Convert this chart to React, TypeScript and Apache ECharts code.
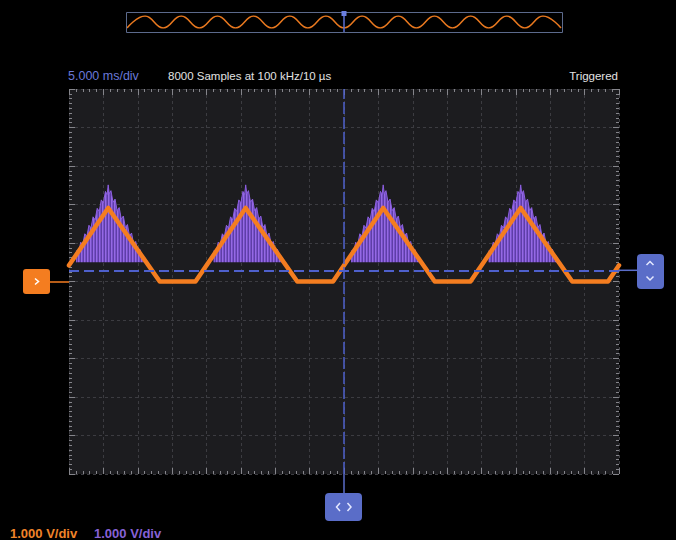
import React, { useEffect, useRef } from 'react';
import * as echarts from 'echarts';

// ---- Axes (oscilloscope divisions) ----
const timeMin = -40; // ms
const timeMax = 40;
const timeStep = 5; // 5.000 ms/div
const voltMin = -5;
const voltMax = 5;
const voltStep = 1; // 1.000 V/div

// ---- Orange channel (clipped triangle wave) ----
const orangeTimes = [-40, -34.3, -26.8, -21.6, -14.3, -6.8, -1.6, 5.7, 13.2, 18.4, 25.7, 33.2, 38.4, 40];
const orangeVolts = [0.42, 1.91, 0, 0, 1.91, 0, 0, 1.91, 0, 0, 1.91, 0, 0, 0.42];

// ---- Purple channel (pulse bursts) ----
const pulsePeakTimes = [-34.3, -14.3, 5.7, 25.7];
const purpleOffsets = [
  -4.6, -4.6, -4.3, -4.0, -3.7, -3.4, -3.1, -2.8, -2.5, -2.2, -1.9, -1.6, -1.3, -1.0, -0.7, -0.4, -0.15, 0,
  0.15, 0.4, 0.7, 1.0, 1.3, 1.6, 1.9, 2.2, 2.5, 2.8, 3.1, 3.4, 3.7, 4.0, 4.3, 4.6, 5.0, 5.3,
];
const purpleVolts = [
  0.5, 0.8, 0.74, 1.02, 0.96, 1.24, 1.17, 1.46, 1.39, 1.68, 1.6, 1.9, 1.82, 2.12, 2.04, 2.34, 2.26, 2.51,
  2.28, 2.36, 2.06, 2.14, 1.84, 1.92, 1.62, 1.7, 1.4, 1.48, 1.18, 1.26, 0.97, 1.04, 0.78, 0.84, 0.62, 0.5,
];
const purpleBaseVolt = 0.5;

// ---- Trigger ----
const triggerTime = 0;
const triggerLevel = 0.29;

// ---- Overview strip (12 cycles) ----
const overviewPeakPos = [0.5, 1.5, 2.5, 3.5, 4.5, 5.5, 6.5, 7.5, 8.5, 9.5, 10.5, 11.5];
const overviewTroughPos = [0, 1, 2, 3, 4, 5, 6, 7, 8, 9, 10, 11, 12];

// ---- Texts ----
const timebaseText = '5.000 ms/div';
const samplesText = '8000 Samples at 100 kHz/10 µs';
const statusText = 'Triggered';
const ch1ScaleText = '1.000 V/div';
const ch2ScaleText = '1.000 V/div';

const ORANGE = '#f47d20';
const BLUE = '#4e60cc';
const HANDLE_BLUE = '#5a6dc8';
const FONT = '"Liberation Sans", Arial, sans-serif';

export default function App() {
  const ref = useRef<HTMLDivElement>(null);

  useEffect(() => {
    if (!ref.current) return;
    const chart = echarts.init(ref.current, null, { renderer: 'svg' });

    const stripe = document.createElement('canvas');
    stripe.width = 3;
    stripe.height = 2;
    const ctx = stripe.getContext('2d');
    if (ctx) {
      ctx.fillStyle = '#7750c8';
      ctx.fillRect(0, 0, 3, 2);
      ctx.fillStyle = '#956ae4';
      ctx.fillRect(0, 0, 1, 2);
      ctx.fillStyle = '#5e3ea6';
      ctx.fillRect(2, 0, 1, 2);
    }

    const orangeData = orangeTimes.map((t, i) => [t, orangeVolts[i]]);
    const purpleData: any[] = [];
    pulsePeakTimes.forEach((p) => {
      purpleOffsets.forEach((d, i) => purpleData.push([+(p + d).toFixed(3), purpleVolts[i]]));
      purpleData.push([+(p + 6).toFixed(3), '-']);
    });

    const overviewPts: number[][] = [];
    overviewTroughPos.forEach((x) => overviewPts.push([x, -1]));
    overviewPeakPos.forEach((x) => overviewPts.push([x, 1]));
    overviewPts.sort((a, b) => a[0] - b[0]);

    const tickLine = { color: '#85858b', width: 1 };
    const mainAxisX = (position: 'top' | 'bottom', grid: boolean) => ({
      type: 'value',
      gridIndex: 0,
      min: timeMin,
      max: timeMax,
      interval: timeStep,
      position,
      axisLine: { show: false, onZero: false },
      axisTick: { show: true, inside: true, length: 6, lineStyle: tickLine },
      minorTick: { show: true, splitNumber: 5, length: 3, lineStyle: tickLine },
      axisLabel: { show: false },
      splitLine: { show: grid, lineStyle: { color: '#3c3c41', type: [3, 3], width: 1 } },
    });
    const mainAxisY = (position: 'left' | 'right', grid: boolean) => ({
      type: 'value',
      gridIndex: 0,
      min: voltMin,
      max: voltMax,
      interval: voltStep,
      position,
      axisLine: { show: false, onZero: false },
      axisTick: { show: true, inside: true, length: 6, lineStyle: tickLine },
      minorTick: { show: true, splitNumber: 8, length: 3, lineStyle: tickLine },
      axisLabel: { show: false },
      splitLine: { show: grid, lineStyle: { color: '#3c3c41', type: [3, 3], width: 1 } },
    });

    const option: any = {
      animation: false,
      backgroundColor: '#000000',
      grid: [
        { left: 69, top: 89, width: 550, height: 385, show: true, backgroundColor: '#1c1c1f', borderWidth: 0 },
        { left: 127, top: 16, width: 434, height: 12, show: false },
      ],
      xAxis: [
        mainAxisX('bottom', true),
        mainAxisX('top', false),
        { type: 'value', gridIndex: 1, min: 0, max: 12, show: false },
      ],
      yAxis: [
        mainAxisY('left', true),
        mainAxisY('right', false),
        { type: 'value', gridIndex: 1, min: -1, max: 1, show: false },
      ],
      series: [
        {
          type: 'line',
          xAxisIndex: 0,
          yAxisIndex: 0,
          z: 2,
          data: purpleData,
          showSymbol: false,
          symbol: 'none',
          connectNulls: false,
          silent: true,
          lineStyle: { color: '#8c5fe0', width: 1 },
          areaStyle: {
            origin: purpleBaseVolt,
            color: { image: stripe, repeat: 'repeat', imageWidth: 3, imageHeight: 2 },
            opacity: 1,
          },
          markLine: {
            silent: true,
            symbol: ['none', 'none'],
            label: { show: false },
            emphasis: { disabled: true },
            data: [
              { xAxis: triggerTime, lineStyle: { color: BLUE, width: 1.5, type: [12, 3] } },
              { yAxis: triggerLevel, lineStyle: { color: BLUE, width: 2, type: [10, 5] } },
            ],
          },
        },
        {
          type: 'line',
          xAxisIndex: 0,
          yAxisIndex: 0,
          z: 3,
          data: orangeData,
          showSymbol: false,
          symbol: 'none',
          silent: true,
          lineStyle: { color: ORANGE, width: 4.5, join: 'round', cap: 'round' },
        },
        {
          type: 'line',
          xAxisIndex: 2,
          yAxisIndex: 2,
          data: overviewPts,
          showSymbol: false,
          symbol: 'none',
          smooth: 0.45,
          silent: true,
          lineStyle: { color: '#e8781f', width: 1.5 },
        },
      ],
      graphic: [
        // overview frame + marker
        { type: 'rect', shape: { x: 126.5, y: 12.5, width: 436, height: 20 }, style: { fill: 'none', stroke: '#5c6a8c', lineWidth: 1 }, z: 10 },
        { type: 'line', shape: { x1: 344, y1: 13, x2: 344, y2: 32 }, style: { stroke: '#5b6fd2', lineWidth: 1.5 }, z: 11 },
        { type: 'rect', shape: { x: 341.5, y: 11, width: 5, height: 5 }, style: { fill: '#6b7fe0' }, z: 12 },
        // header texts
        { type: 'text', x: 68, y: 76, style: { text: timebaseText, fill: '#6a79d8', font: `12.5px ${FONT}`, textAlign: 'left', textVerticalAlign: 'middle' }, z: 10 },
        { type: 'text', x: 168, y: 76, style: { text: samplesText, fill: '#e2e2e2', font: `11.5px ${FONT}`, textAlign: 'left', textVerticalAlign: 'middle' }, z: 10 },
        { type: 'text', x: 618, y: 76, style: { text: statusText, fill: '#e2e2e2', font: `11.5px ${FONT}`, textAlign: 'right', textVerticalAlign: 'middle' }, z: 10 },
        // left (channel ground) handle
        { type: 'line', shape: { x1: 49, y1: 282, x2: 69, y2: 282 }, style: { stroke: ORANGE, lineWidth: 1.5 }, z: 10 },
        { type: 'rect', shape: { x: 23, y: 269, width: 27, height: 25, r: 3 }, style: { fill: ORANGE }, z: 10 },
        { type: 'polyline', shape: { points: [[35, 278.5], [38.5, 281.5], [35, 284.5]] }, style: { stroke: '#ffffff', lineWidth: 1.5, fill: 'none' }, z: 11 },
        // right (trigger level) handle
        { type: 'line', shape: { x1: 619, y1: 270.3, x2: 637, y2: 270.3 }, style: { stroke: HANDLE_BLUE, lineWidth: 1.5 }, z: 10 },
        { type: 'rect', shape: { x: 637, y: 254, width: 27, height: 35, r: 4 }, style: { fill: HANDLE_BLUE }, z: 10 },
        { type: 'polyline', shape: { points: [[646.5, 265], [650, 261.5], [653.5, 265]] }, style: { stroke: '#e4e8ff', lineWidth: 1.5, fill: 'none' }, z: 11 },
        { type: 'polyline', shape: { points: [[646.5, 276.5], [650, 280], [653.5, 276.5]] }, style: { stroke: '#e4e8ff', lineWidth: 1.5, fill: 'none' }, z: 11 },
        // bottom (trigger position) handle
        { type: 'line', shape: { x1: 344, y1: 474, x2: 344, y2: 493 }, style: { stroke: HANDLE_BLUE, lineWidth: 1.5 }, z: 10 },
        { type: 'rect', shape: { x: 325, y: 493, width: 37, height: 28, r: 4 }, style: { fill: HANDLE_BLUE }, z: 10 },
        { type: 'polyline', shape: { points: [[340, 503], [336.5, 507], [340, 511]] }, style: { stroke: '#e4e8ff', lineWidth: 1.5, fill: 'none' }, z: 11 },
        { type: 'polyline', shape: { points: [[347.5, 503], [351, 507], [347.5, 511]] }, style: { stroke: '#e4e8ff', lineWidth: 1.5, fill: 'none' }, z: 11 },
        // channel scale texts
        { type: 'text', x: 10, y: 533, style: { text: ch1ScaleText, fill: '#f0842a', font: `bold 13px ${FONT}`, textAlign: 'left', textVerticalAlign: 'middle' }, z: 10 },
        { type: 'text', x: 94, y: 533, style: { text: ch2ScaleText, fill: '#8762d6', font: `bold 13px ${FONT}`, textAlign: 'left', textVerticalAlign: 'middle' }, z: 10 },
      ],
    };

    chart.setOption(option);
    return () => chart.dispose();
  }, []);

  return (
    <div
      ref={ref}
      style={{ position: 'fixed', left: 0, top: 0, width: 676, height: 540, background: '#000' }}
    />
  );
}
